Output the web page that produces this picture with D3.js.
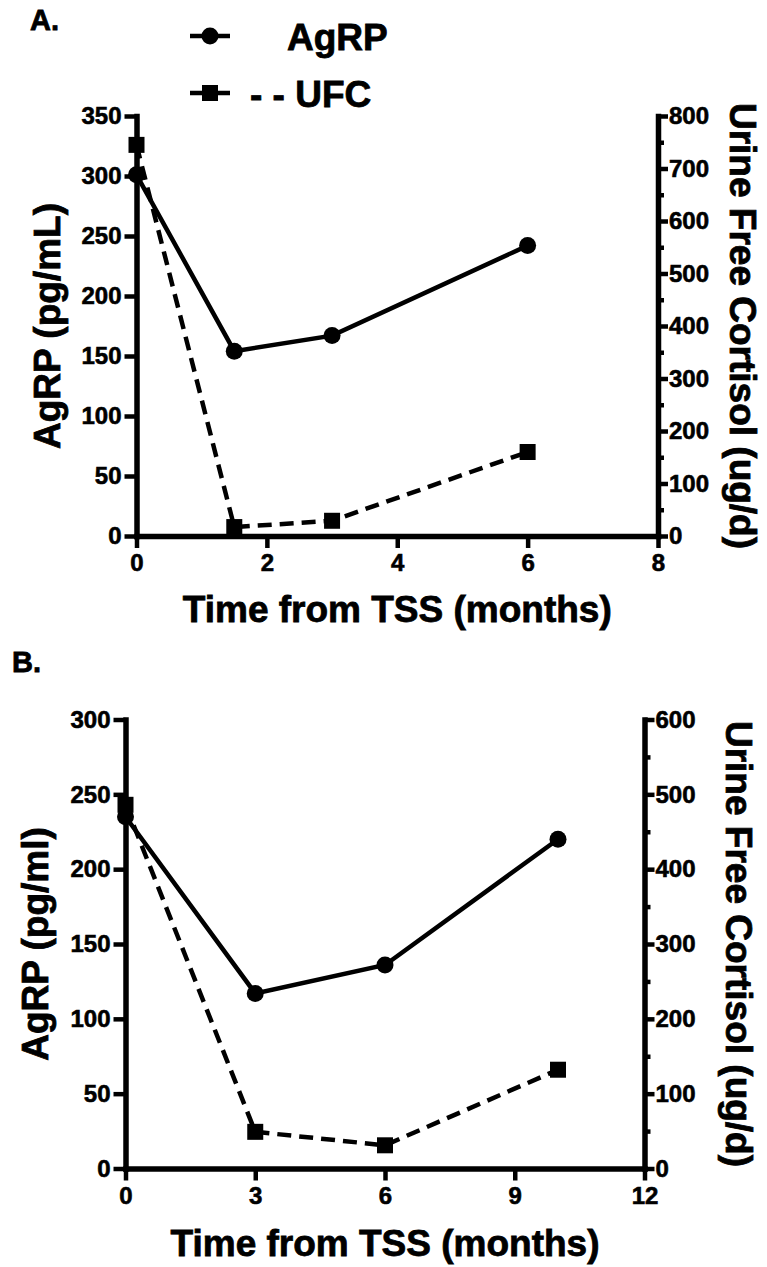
<!DOCTYPE html>
<html><head><meta charset="utf-8">
<script src="https://cdn.jsdelivr.net/npm/d3@7"></script>
<style>
body{margin:0;background:#fff}
svg{display:block}
text{font-family:"Liberation Sans",Arial,Helvetica,sans-serif;font-weight:bold;fill:#000}
</style>
</head><body>
<svg id="chart" width="767" height="1267"></svg>
<script>
// ---- data ----
const monthsA = [0, 1.5, 3, 6];
const agrpA   = [301, 154, 167, 242];
const ufcA    = [745, 17, 29, 160];
const xTicksA = [0, 2, 4, 6, 8];
const leftTicksA  = [0, 50, 100, 150, 200, 250, 300, 350];
const rightTicksA = [0, 100, 200, 300, 400, 500, 600, 700, 800];
const rightMinorA = [50, 150, 250, 350, 450, 550, 650, 750];

const monthsB = [0, 3, 6, 10];
const agrpB   = [235, 117, 136, 220];
const ufcB    = [486, 49, 31, 132];
const xTicksB = [0, 3, 6, 9, 12];
const leftTicksB  = [0, 50, 100, 150, 200, 250, 300];
const rightTicksB = [0, 100, 200, 300, 400, 500, 600];
const rightMinorB = [50, 150, 250, 350, 450, 550];

const panelLabels = ["A.", "B."];
const leftTitles = ["AgRP (pg/mL)", "AgRP (pg/ml)"];
const rightTitle = "Urine Free Cortisol (ug/d)";
const xTitle = "Time from TSS (months)";
const legendNames = ["AgRP", "- - UFC"];

// ---- layout ----
const panels = [
  {months: monthsA, agrp: agrpA, ufc: ufcA, xTicks: xTicksA, lt: leftTicksA, rt: rightTicksA, rm: rightMinorA,
   xd: [0, 8], ld: [0, 350], rd: [0, 800],
   x0: 136.5, x1: 658, yb: 536, yt: 116, label: panelLabels[0], lTitle: leftTitles[0],
   labelPos: [30, 30], lTitleX: 60, rTitleX: 730, xTitleY: 622},
  {months: monthsB, agrp: agrpB, ufc: ufcB, xTicks: xTicksB, lt: leftTicksB, rt: rightTicksB, rm: rightMinorB,
   xd: [0, 12], ld: [0, 300], rd: [0, 600],
   x0: 125.5, x1: 644.5, yb: 1168.5, yt: 719.5, label: panelLabels[1], lTitle: leftTitles[1],
   labelPos: [12, 672], lTitleX: 48, rTitleX: 726, xTitleY: 1256}
];

const svg = d3.select("#chart");
const AX_W = 5.5, TICK_W = 4.5, LINE_W = 4.5;

function styleAxis(g) {
  g.select(".domain").attr("stroke-width", AX_W).attr("stroke-linecap", "square");
  g.selectAll(".tick line").attr("stroke-width", TICK_W);
  g.selectAll(".tick text").style("font-size", "24px").style("font-family", "'Liberation Sans',Arial,sans-serif")
    .style("font-weight", "bold").attr("stroke", "#000").attr("stroke-width", 0.6);
}

panels.forEach(p => {
  const x = d3.scaleLinear().domain(p.xd).range([p.x0, p.x1]);
  const yl = d3.scaleLinear().domain(p.ld).range([p.yb, p.yt]);
  const yr = d3.scaleLinear().domain(p.rd).range([p.yb, p.yt]);
  const g = svg.append("g");

  // x axis
  const gx = g.append("g").attr("transform", `translate(0,${p.yb})`)
    .call(d3.axisBottom(x).tickValues(p.xTicks).tickSize(12).tickSizeOuter(0).tickPadding(6).tickFormat(d3.format("d")));
  styleAxis(gx);

  // left axis
  const gl = g.append("g").attr("transform", `translate(${p.x0},0)`)
    .call(d3.axisLeft(yl).tickValues(p.lt).tickSize(12).tickSizeOuter(0).tickPadding(3).tickFormat(d3.format("d")));
  styleAxis(gl);

  // right axis (major + minor)
  const gr = g.append("g").attr("transform", `translate(${p.x1},0)`)
    .call(d3.axisRight(yr).tickValues(p.rt).tickSize(10).tickSizeOuter(0).tickPadding(1).tickFormat(d3.format("d")));
  styleAxis(gr);
  const grm = g.append("g").attr("transform", `translate(${p.x1},0)`)
    .call(d3.axisRight(yr).tickValues(p.rm).tickSize(6).tickSizeOuter(0).tickFormat(""));
  grm.select(".domain").remove();
  grm.selectAll(".tick line").attr("stroke-width", TICK_W);

  // UFC dashed line (right axis)
  const lineR = d3.line().x((d, i) => x(p.months[i])).y(d => yr(d));
  g.append("path").datum(p.ufc).attr("d", lineR).attr("fill", "none")
    .attr("stroke", "#000").attr("stroke-width", LINE_W).attr("stroke-dasharray", "14,8");
  // AgRP solid line (left axis)
  const lineL = d3.line().x((d, i) => x(p.months[i])).y(d => yl(d));
  g.append("path").datum(p.agrp).attr("d", lineL).attr("fill", "none")
    .attr("stroke", "#000").attr("stroke-width", LINE_W);

  // markers
  const sq = 16;
  g.selectAll(".sq").data(p.ufc).enter().append("rect")
    .attr("x", (d, i) => x(p.months[i]) - sq / 2).attr("y", d => yr(d) - sq / 2)
    .attr("width", sq).attr("height", sq).attr("fill", "#000");
  g.selectAll(".ci").data(p.agrp).enter().append("circle")
    .attr("cx", (d, i) => x(p.months[i])).attr("cy", d => yl(d)).attr("r", 8.5).attr("fill", "#000");

  // titles
  const big = t => t.style("font-size", "37px").attr("stroke", "#000").attr("stroke-width", 0.8);
  g.append("text").attr("x", (p.x0 + p.x1) / 2).attr("y", p.xTitleY).attr("text-anchor", "middle")
    .call(big).text(xTitle);
  const cy = (p.yb + p.yt) / 2;
  g.append("text").attr("transform", `translate(${p.lTitleX},${cy}) rotate(-90)`).attr("text-anchor", "middle")
    .call(big).text(p.lTitle);
  g.append("text").attr("transform", `translate(${p.rTitleX},${cy}) rotate(90)`).attr("text-anchor", "middle")
    .call(big).text(rightTitle);
  g.append("text").attr("x", p.labelPos[0]).attr("y", p.labelPos[1]).style("font-size", "29px")
    .attr("stroke", "#000").attr("stroke-width", 0.8).text(p.label);
});

// legend (panel A)
const lg = svg.append("g");
const legY = [36, 93];
legY.forEach((yy, i) => {
  lg.append("line").attr("x1", 190).attr("x2", 230).attr("y1", yy).attr("y2", yy)
    .attr("stroke", "#000").attr("stroke-width", LINE_W);
  if (i === 0) lg.append("circle").attr("cx", 210).attr("cy", yy).attr("r", 8.5).attr("fill", "#000");
  else lg.append("rect").attr("x", 202).attr("y", yy - 8).attr("width", 16).attr("height", 16).attr("fill", "#000");
});
lg.append("text").attr("x", 287).attr("y", 50).style("font-size", "37px").attr("stroke", "#000").attr("stroke-width", 0.8).text(legendNames[0]);
lg.append("text").attr("x", 250).attr("y", 107).style("font-size", "37px").attr("stroke", "#000").attr("stroke-width", 0.8).text(legendNames[1]);
</script>
</body></html>
